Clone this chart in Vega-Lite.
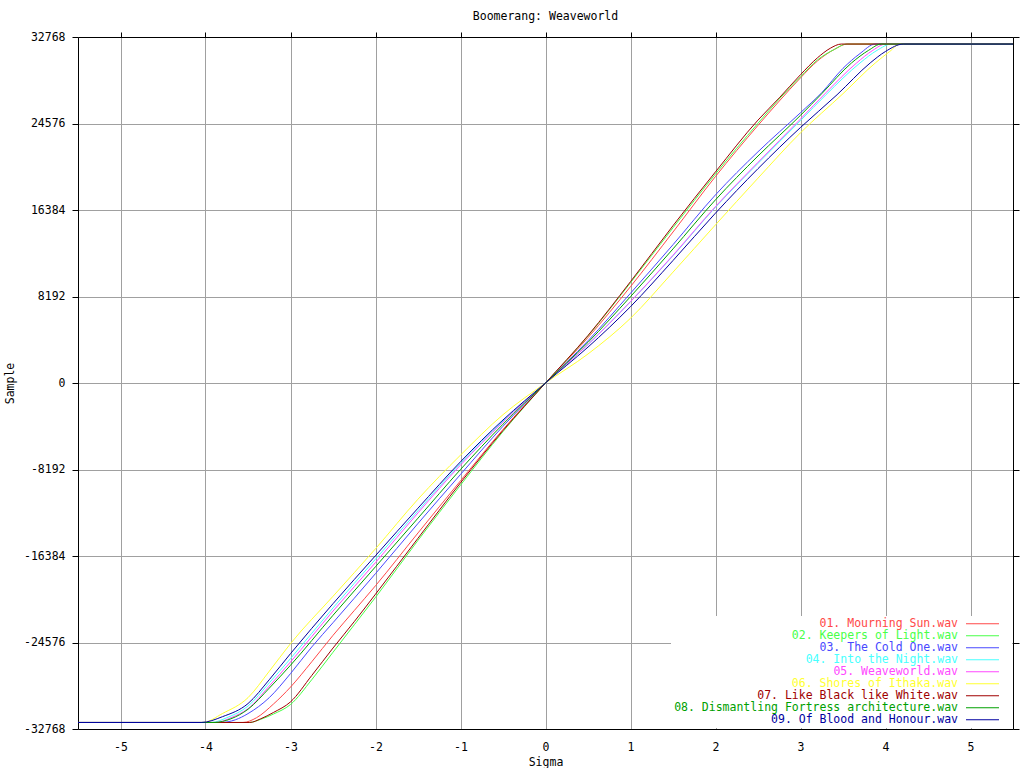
{
  "$schema": "https://vega.github.io/schema/vega-lite/v6.json",
  "width": 935,
  "height": 692,
  "autosize": {"type": "none"},
  "padding": {"left": 78, "top": 37, "right": 11, "bottom": 39},
  "background": "white",
  "title": {"text": "Boomerang: Weaveworld", "offset": 9, "font": "DejaVu Sans Mono", "fontSize": 11.5, "fontWeight": "normal", "color": "black", "anchor": "middle"},
  "config": {
    "view": {"stroke": null},
    "axis": {
      "labelFont": "DejaVu Sans Mono", "labelFontSize": 11.5, "labelColor": "black",
      "titleFont": "DejaVu Sans Mono", "titleFontSize": 11.5, "titleFontWeight": "normal", "titleColor": "black",
      "domainColor": "black", "tickColor": "black", "gridColor": "#a0a0a0", "gridOpacity": 1, "gridWidth": 1
    }
  },
  "data": {"values": [
    {"track":"01. Mourning Sun.wav","sigma":-5.5,"sample":-32150},{"track":"01. Mourning Sun.wav","sigma":-3.56,"sample":-32150},{"track":"01. Mourning Sun.wav","sigma":-3.4,"sample":-31700},{"track":"01. Mourning Sun.wav","sigma":-3.2,"sample":-30400},{"track":"01. Mourning Sun.wav","sigma":-3.0,"sample":-28800},{"track":"01. Mourning Sun.wav","sigma":-2.75,"sample":-26400},{"track":"01. Mourning Sun.wav","sigma":-2.5,"sample":-23900},{"track":"01. Mourning Sun.wav","sigma":-2.25,"sample":-21550},{"track":"01. Mourning Sun.wav","sigma":-2.0,"sample":-19200},{"track":"01. Mourning Sun.wav","sigma":-1.5,"sample":-14200},{"track":"01. Mourning Sun.wav","sigma":-1.0,"sample":-9260},{"track":"01. Mourning Sun.wav","sigma":-0.5,"sample":-4400},{"track":"01. Mourning Sun.wav","sigma":0,"sample":0},{"track":"01. Mourning Sun.wav","sigma":0.5,"sample":4300},{"track":"01. Mourning Sun.wav","sigma":1.0,"sample":9130},{"track":"01. Mourning Sun.wav","sigma":1.5,"sample":14300},{"track":"01. Mourning Sun.wav","sigma":2.0,"sample":19560},{"track":"01. Mourning Sun.wav","sigma":2.5,"sample":24400},{"track":"01. Mourning Sun.wav","sigma":2.75,"sample":26700},{"track":"01. Mourning Sun.wav","sigma":3.0,"sample":28900},{"track":"01. Mourning Sun.wav","sigma":3.2,"sample":30500},{"track":"01. Mourning Sun.wav","sigma":3.4,"sample":31600},{"track":"01. Mourning Sun.wav","sigma":3.55,"sample":32100},{"track":"01. Mourning Sun.wav","sigma":5.5,"sample":32100},

    {"track":"02. Keepers of Light.wav","sigma":-5.5,"sample":-32150},{"track":"02. Keepers of Light.wav","sigma":-3.48,"sample":-32150},{"track":"02. Keepers of Light.wav","sigma":-3.35,"sample":-31850},{"track":"02. Keepers of Light.wav","sigma":-3.2,"sample":-31350},{"track":"02. Keepers of Light.wav","sigma":-3.0,"sample":-30450},{"track":"02. Keepers of Light.wav","sigma":-2.75,"sample":-28100},{"track":"02. Keepers of Light.wav","sigma":-2.5,"sample":-25500},{"track":"02. Keepers of Light.wav","sigma":-2.25,"sample":-22900},{"track":"02. Keepers of Light.wav","sigma":-2.0,"sample":-20300},{"track":"02. Keepers of Light.wav","sigma":-1.5,"sample":-14900},{"track":"02. Keepers of Light.wav","sigma":-1.0,"sample":-9670},{"track":"02. Keepers of Light.wav","sigma":-0.5,"sample":-4600},{"track":"02. Keepers of Light.wav","sigma":0,"sample":0},{"track":"02. Keepers of Light.wav","sigma":0.5,"sample":4450},{"track":"02. Keepers of Light.wav","sigma":1.0,"sample":9500},{"track":"02. Keepers of Light.wav","sigma":1.5,"sample":14700},{"track":"02. Keepers of Light.wav","sigma":2.0,"sample":19800},{"track":"02. Keepers of Light.wav","sigma":2.5,"sample":24600},{"track":"02. Keepers of Light.wav","sigma":2.75,"sample":26900},{"track":"02. Keepers of Light.wav","sigma":3.0,"sample":29000},{"track":"02. Keepers of Light.wav","sigma":3.2,"sample":30600},{"track":"02. Keepers of Light.wav","sigma":3.4,"sample":31600},{"track":"02. Keepers of Light.wav","sigma":3.54,"sample":32100},{"track":"02. Keepers of Light.wav","sigma":5.5,"sample":32100},

    {"track":"03. The Cold One.wav","sigma":-5.5,"sample":-32150},{"track":"03. The Cold One.wav","sigma":-3.82,"sample":-32150},{"track":"03. The Cold One.wav","sigma":-3.65,"sample":-31900},{"track":"03. The Cold One.wav","sigma":-3.5,"sample":-31310},{"track":"03. The Cold One.wav","sigma":-3.25,"sample":-29800},{"track":"03. The Cold One.wav","sigma":-3.0,"sample":-27520},{"track":"03. The Cold One.wav","sigma":-2.75,"sample":-25000},{"track":"03. The Cold One.wav","sigma":-2.5,"sample":-22700},{"track":"03. The Cold One.wav","sigma":-2.0,"sample":-18050},{"track":"03. The Cold One.wav","sigma":-1.5,"sample":-13300},{"track":"03. The Cold One.wav","sigma":-1.0,"sample":-8660},{"track":"03. The Cold One.wav","sigma":-0.5,"sample":-4100},{"track":"03. The Cold One.wav","sigma":0,"sample":0},{"track":"03. The Cold One.wav","sigma":0.5,"sample":4000},{"track":"03. The Cold One.wav","sigma":1.0,"sample":8500},{"track":"03. The Cold One.wav","sigma":1.5,"sample":13100},{"track":"03. The Cold One.wav","sigma":2.0,"sample":17820},{"track":"03. The Cold One.wav","sigma":2.5,"sample":21900},{"track":"03. The Cold One.wav","sigma":3.0,"sample":25600},{"track":"03. The Cold One.wav","sigma":3.25,"sample":27500},{"track":"03. The Cold One.wav","sigma":3.5,"sample":29800},{"track":"03. The Cold One.wav","sigma":3.7,"sample":31200},{"track":"03. The Cold One.wav","sigma":3.88,"sample":32100},{"track":"03. The Cold One.wav","sigma":5.5,"sample":32100},

    {"track":"04. Into the Night.wav","sigma":-5.5,"sample":-32150},{"track":"04. Into the Night.wav","sigma":-3.93,"sample":-32150},{"track":"04. Into the Night.wav","sigma":-3.75,"sample":-31700},{"track":"04. Into the Night.wav","sigma":-3.5,"sample":-30600},{"track":"04. Into the Night.wav","sigma":-3.25,"sample":-28400},{"track":"04. Into the Night.wav","sigma":-3.0,"sample":-26100},{"track":"04. Into the Night.wav","sigma":-2.5,"sample":-21300},{"track":"04. Into the Night.wav","sigma":-2.0,"sample":-16680},{"track":"04. Into the Night.wav","sigma":-1.5,"sample":-12100},{"track":"04. Into the Night.wav","sigma":-1.0,"sample":-7620},{"track":"04. Into the Night.wav","sigma":-0.5,"sample":-3600},{"track":"04. Into the Night.wav","sigma":0,"sample":0},{"track":"04. Into the Night.wav","sigma":0.5,"sample":3650},{"track":"04. Into the Night.wav","sigma":1.0,"sample":7700},{"track":"04. Into the Night.wav","sigma":1.5,"sample":12050},{"track":"04. Into the Night.wav","sigma":2.0,"sample":16650},{"track":"04. Into the Night.wav","sigma":2.5,"sample":20800},{"track":"04. Into the Night.wav","sigma":3.0,"sample":24850},{"track":"04. Into the Night.wav","sigma":3.3,"sample":27300},{"track":"04. Into the Night.wav","sigma":3.7,"sample":30310},{"track":"04. Into the Night.wav","sigma":3.9,"sample":31500},{"track":"04. Into the Night.wav","sigma":4.07,"sample":32100},{"track":"04. Into the Night.wav","sigma":5.5,"sample":32100},

    {"track":"05. Weaveworld.wav","sigma":-5.5,"sample":-32150},{"track":"05. Weaveworld.wav","sigma":-3.88,"sample":-32150},{"track":"05. Weaveworld.wav","sigma":-3.7,"sample":-31700},{"track":"05. Weaveworld.wav","sigma":-3.5,"sample":-30840},{"track":"05. Weaveworld.wav","sigma":-3.25,"sample":-28700},{"track":"05. Weaveworld.wav","sigma":-3.0,"sample":-26420},{"track":"05. Weaveworld.wav","sigma":-2.5,"sample":-21600},{"track":"05. Weaveworld.wav","sigma":-2.0,"sample":-17000},{"track":"05. Weaveworld.wav","sigma":-1.5,"sample":-12300},{"track":"05. Weaveworld.wav","sigma":-1.0,"sample":-7770},{"track":"05. Weaveworld.wav","sigma":-0.5,"sample":-3700},{"track":"05. Weaveworld.wav","sigma":0,"sample":0},{"track":"05. Weaveworld.wav","sigma":0.5,"sample":3650},{"track":"05. Weaveworld.wav","sigma":1.0,"sample":7710},{"track":"05. Weaveworld.wav","sigma":1.5,"sample":12100},{"track":"05. Weaveworld.wav","sigma":2.0,"sample":16710},{"track":"05. Weaveworld.wav","sigma":2.5,"sample":20900},{"track":"05. Weaveworld.wav","sigma":3.0,"sample":25000},{"track":"05. Weaveworld.wav","sigma":3.3,"sample":27500},{"track":"05. Weaveworld.wav","sigma":3.66,"sample":30310},{"track":"05. Weaveworld.wav","sigma":3.85,"sample":31500},{"track":"05. Weaveworld.wav","sigma":4.0,"sample":32100},{"track":"05. Weaveworld.wav","sigma":5.5,"sample":32100},

    {"track":"06. Shores of Ithaka.wav","sigma":-5.5,"sample":-32150},{"track":"06. Shores of Ithaka.wav","sigma":-4.03,"sample":-32150},{"track":"06. Shores of Ithaka.wav","sigma":-3.8,"sample":-31300},{"track":"06. Shores of Ithaka.wav","sigma":-3.5,"sample":-29800},{"track":"06. Shores of Ithaka.wav","sigma":-3.25,"sample":-27300},{"track":"06. Shores of Ithaka.wav","sigma":-3.0,"sample":-24680},{"track":"06. Shores of Ithaka.wav","sigma":-2.5,"sample":-20200},{"track":"06. Shores of Ithaka.wav","sigma":-2.0,"sample":-15700},{"track":"06. Shores of Ithaka.wav","sigma":-1.5,"sample":-11000},{"track":"06. Shores of Ithaka.wav","sigma":-1.0,"sample":-6830},{"track":"06. Shores of Ithaka.wav","sigma":-0.5,"sample":-3000},{"track":"06. Shores of Ithaka.wav","sigma":0,"sample":0},{"track":"06. Shores of Ithaka.wav","sigma":0.5,"sample":2750},{"track":"06. Shores of Ithaka.wav","sigma":1.0,"sample":6130},{"track":"06. Shores of Ithaka.wav","sigma":1.5,"sample":10500},{"track":"06. Shores of Ithaka.wav","sigma":2.0,"sample":14980},{"track":"06. Shores of Ithaka.wav","sigma":2.5,"sample":19400},{"track":"06. Shores of Ithaka.wav","sigma":3.0,"sample":23700},{"track":"06. Shores of Ithaka.wav","sigma":3.5,"sample":27400},{"track":"06. Shores of Ithaka.wav","sigma":3.88,"sample":30310},{"track":"06. Shores of Ithaka.wav","sigma":4.05,"sample":31400},{"track":"06. Shores of Ithaka.wav","sigma":4.17,"sample":32100},{"track":"06. Shores of Ithaka.wav","sigma":5.5,"sample":32100},

    {"track":"07. Like Black like White.wav","sigma":-5.5,"sample":-32150},{"track":"07. Like Black like White.wav","sigma":-3.48,"sample":-32150},{"track":"07. Like Black like White.wav","sigma":-3.35,"sample":-31800},{"track":"07. Like Black like White.wav","sigma":-3.2,"sample":-31200},{"track":"07. Like Black like White.wav","sigma":-3.0,"sample":-30200},{"track":"07. Like Black like White.wav","sigma":-2.75,"sample":-27700},{"track":"07. Like Black like White.wav","sigma":-2.5,"sample":-25100},{"track":"07. Like Black like White.wav","sigma":-2.25,"sample":-22600},{"track":"07. Like Black like White.wav","sigma":-2.0,"sample":-20000},{"track":"07. Like Black like White.wav","sigma":-1.5,"sample":-14700},{"track":"07. Like Black like White.wav","sigma":-1.0,"sample":-9450},{"track":"07. Like Black like White.wav","sigma":-0.5,"sample":-4500},{"track":"07. Like Black like White.wav","sigma":0,"sample":0},{"track":"07. Like Black like White.wav","sigma":0.5,"sample":4500},{"track":"07. Like Black like White.wav","sigma":1.0,"sample":9600},{"track":"07. Like Black like White.wav","sigma":1.5,"sample":14900},{"track":"07. Like Black like White.wav","sigma":2.0,"sample":20000},{"track":"07. Like Black like White.wav","sigma":2.5,"sample":24900},{"track":"07. Like Black like White.wav","sigma":2.75,"sample":27000},{"track":"07. Like Black like White.wav","sigma":3.0,"sample":29200},{"track":"07. Like Black like White.wav","sigma":3.2,"sample":30800},{"track":"07. Like Black like White.wav","sigma":3.35,"sample":31700},{"track":"07. Like Black like White.wav","sigma":3.48,"sample":32100},{"track":"07. Like Black like White.wav","sigma":5.5,"sample":32100},

    {"track":"08. Dismantling Fortress architecture.wav","sigma":-5.5,"sample":-32150},{"track":"08. Dismantling Fortress architecture.wav","sigma":-3.9,"sample":-32150},{"track":"08. Dismantling Fortress architecture.wav","sigma":-3.7,"sample":-31800},{"track":"08. Dismantling Fortress architecture.wav","sigma":-3.5,"sample":-30900},{"track":"08. Dismantling Fortress architecture.wav","sigma":-3.25,"sample":-28900},{"track":"08. Dismantling Fortress architecture.wav","sigma":-3.0,"sample":-26730},{"track":"08. Dismantling Fortress architecture.wav","sigma":-2.5,"sample":-22000},{"track":"08. Dismantling Fortress architecture.wav","sigma":-2.0,"sample":-17400},{"track":"08. Dismantling Fortress architecture.wav","sigma":-1.5,"sample":-12800},{"track":"08. Dismantling Fortress architecture.wav","sigma":-1.0,"sample":-8190},{"track":"08. Dismantling Fortress architecture.wav","sigma":-0.5,"sample":-3900},{"track":"08. Dismantling Fortress architecture.wav","sigma":0,"sample":0},{"track":"08. Dismantling Fortress architecture.wav","sigma":0.5,"sample":3850},{"track":"08. Dismantling Fortress architecture.wav","sigma":1.0,"sample":8180},{"track":"08. Dismantling Fortress architecture.wav","sigma":1.5,"sample":12700},{"track":"08. Dismantling Fortress architecture.wav","sigma":2.0,"sample":17350},{"track":"08. Dismantling Fortress architecture.wav","sigma":2.5,"sample":21500},{"track":"08. Dismantling Fortress architecture.wav","sigma":3.0,"sample":25350},{"track":"08. Dismantling Fortress architecture.wav","sigma":3.25,"sample":27400},{"track":"08. Dismantling Fortress architecture.wav","sigma":3.6,"sample":30310},{"track":"08. Dismantling Fortress architecture.wav","sigma":3.8,"sample":31500},{"track":"08. Dismantling Fortress architecture.wav","sigma":3.95,"sample":32100},{"track":"08. Dismantling Fortress architecture.wav","sigma":5.5,"sample":32100},

    {"track":"09. Of Blood and Honour.wav","sigma":-5.5,"sample":-32150},{"track":"09. Of Blood and Honour.wav","sigma":-4.05,"sample":-32150},{"track":"09. Of Blood and Honour.wav","sigma":-3.8,"sample":-31600},{"track":"09. Of Blood and Honour.wav","sigma":-3.5,"sample":-30360},{"track":"09. Of Blood and Honour.wav","sigma":-3.25,"sample":-28100},{"track":"09. Of Blood and Honour.wav","sigma":-3.0,"sample":-25630},{"track":"09. Of Blood and Honour.wav","sigma":-2.5,"sample":-20900},{"track":"09. Of Blood and Honour.wav","sigma":-2.0,"sample":-16350},{"track":"09. Of Blood and Honour.wav","sigma":-1.5,"sample":-11850},{"track":"09. Of Blood and Honour.wav","sigma":-1.0,"sample":-7460},{"track":"09. Of Blood and Honour.wav","sigma":-0.5,"sample":-3500},{"track":"09. Of Blood and Honour.wav","sigma":0,"sample":0},{"track":"09. Of Blood and Honour.wav","sigma":0.5,"sample":3400},{"track":"09. Of Blood and Honour.wav","sigma":1.0,"sample":7230},{"track":"09. Of Blood and Honour.wav","sigma":1.5,"sample":11600},{"track":"09. Of Blood and Honour.wav","sigma":2.0,"sample":16090},{"track":"09. Of Blood and Honour.wav","sigma":2.5,"sample":20300},{"track":"09. Of Blood and Honour.wav","sigma":3.0,"sample":24200},{"track":"09. Of Blood and Honour.wav","sigma":3.43,"sample":27300},{"track":"09. Of Blood and Honour.wav","sigma":3.82,"sample":30310},{"track":"09. Of Blood and Honour.wav","sigma":4.0,"sample":31400},{"track":"09. Of Blood and Honour.wav","sigma":4.21,"sample":32100},{"track":"09. Of Blood and Honour.wav","sigma":5.5,"sample":32100}
  ]},
  "layer": [
    {
      "mark": {"type": "line", "strokeWidth": 1, "interpolate": "monotone"},
      "encoding": {
        "x": {"field": "sigma", "type": "quantitative",
              "scale": {"domain": [-5.5, 5.5], "nice": false, "zero": false},
              "axis": {"orient": "bottom", "title": "Sigma", "values": [-5,-4,-3,-2,-1,0,1,2,3,4,5], "labelExpr": "'' + datum.value", "grid": true, "ticks": false, "labelPadding": 12, "titlePadding": 4, "domainColor": "black"}},
        "y": {"field": "sample", "type": "quantitative",
              "scale": {"domain": [-32768, 32768], "nice": false, "zero": false},
              "axis": {"orient": "left", "title": "Sample", "values": [-32768,-24576,-16384,-8192,0,8192,16384,24576,32768], "labelExpr": "'' + datum.value", "grid": true, "tickSize": 6, "labelPadding": 7, "titlePadding": 8, "domainColor": "black"}},
        "color": {"field": "track", "type": "nominal",
                  "scale": {"domain": ["01. Mourning Sun.wav","02. Keepers of Light.wav","03. The Cold One.wav","04. Into the Night.wav","05. Weaveworld.wav","06. Shores of Ithaka.wav","07. Like Black like White.wav","08. Dismantling Fortress architecture.wav","09. Of Blood and Honour.wav"],
                            "range": ["#ff4848","#48ff48","#4848ff","#48ffff","#ff48ff","#ffff30","#a00000","#00a000","#0000a0"]},
                  "legend": {"orient": "bottom-right", "title": null, "symbolType": "M-3.3,0H3.3M4.95,0", "symbolSize": 100, "symbolStrokeWidth": 1,
                             "labelFont": "DejaVu Sans Mono", "labelFontSize": 11.5, "labelLimit": 400, "labelAlign": "right",
                             "labelOffset": -30.25, "symbolOffset": 303.75, "rowPadding": -2, "padding": 2, "offset": 1,
                             "fillColor": "white", "strokeColor": null,
                             "encode": {"labels": {"update": {"fill": {"scale": "color", "field": "value"}}}}}}
      }
    },
    {
      "mark": {"type": "point", "opacity": 0},
      "encoding": {
        "x": {"field": "sigma", "type": "quantitative",
              "scale": {"domain": [-5.5, 5.5], "nice": false, "zero": false},
              "axis": {"orient": "top", "title": null, "values": [-5,-4,-3,-2,-1,0,1,2,3,4,5], "labels": false, "grid": false, "tickSize": 5, "domainColor": "black"}},
        "y": {"field": "sample", "type": "quantitative",
              "scale": {"domain": [-32768, 32768], "nice": false, "zero": false},
              "axis": {"orient": "right", "title": null, "values": [-32768,-24576,-16384,-8192,0,8192,16384,24576,32768], "labels": false, "grid": false, "tickSize": 6, "domainColor": "black"}}
      }
    }
  ],
  "resolve": {"axis": {"x": "independent", "y": "independent"}}
}
